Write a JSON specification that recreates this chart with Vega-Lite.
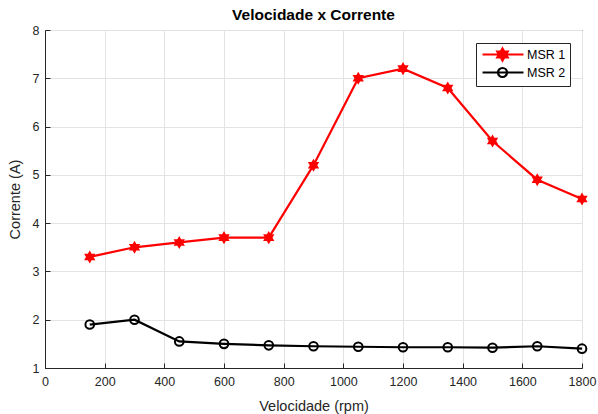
{
  "$schema": "https://vega.github.io/schema/vega-lite/v6.json",
  "width": 537,
  "height": 338,
  "autosize": {"type": "none"},
  "padding": {"left": 45, "top": 30, "right": 16, "bottom": 46},
  "background": "white",
  "title": {"text": "Velocidade x Corrente", "font": "Liberation Sans", "fontSize": 15.5, "fontWeight": "bold", "color": "#000000", "offset": 1},
  "config": {
    "view": {"stroke": "#262626", "strokeWidth": 1},
    "axis": {
      "labelFont": "Liberation Sans", "labelFontSize": 12.5, "labelColor": "#262626", "labelFlush": false,
      "titleFont": "Liberation Sans", "titleFontSize": 14.5, "titleFontWeight": "normal", "titleColor": "#262626",
      "gridColor": "#e3e3e3", "gridWidth": 1,
      "domainColor": "#262626", "tickColor": "#262626", "tickSize": -5
    },
    "legend": {
      "orient": "none", "legendX": 431, "legendY": 13,
      "strokeColor": "#262626", "fillColor": "white", "padding": 4, "rowPadding": -4,
      "labelFont": "Liberation Sans", "labelFontSize": 12.5, "labelColor": "#000000",
      "symbolSize": 144, "symbolStrokeWidth": 2.2, "labelOffset": 32, "symbolOpacity": 1
    }
  },
  "data": {"values": [
    {"v": 150, "c": 3.3, "s": "MSR 1"},
    {"v": 300, "c": 3.5, "s": "MSR 1"},
    {"v": 450, "c": 3.6, "s": "MSR 1"},
    {"v": 600, "c": 3.7, "s": "MSR 1"},
    {"v": 750, "c": 3.7, "s": "MSR 1"},
    {"v": 900, "c": 5.2, "s": "MSR 1"},
    {"v": 1050, "c": 7.0, "s": "MSR 1"},
    {"v": 1200, "c": 7.2, "s": "MSR 1"},
    {"v": 1350, "c": 6.8, "s": "MSR 1"},
    {"v": 1500, "c": 5.7, "s": "MSR 1"},
    {"v": 1650, "c": 4.9, "s": "MSR 1"},
    {"v": 1800, "c": 4.5, "s": "MSR 1"},
    {"v": 150, "c": 1.9, "s": "MSR 2"},
    {"v": 300, "c": 2.0, "s": "MSR 2"},
    {"v": 450, "c": 1.55, "s": "MSR 2"},
    {"v": 600, "c": 1.5, "s": "MSR 2"},
    {"v": 750, "c": 1.47, "s": "MSR 2"},
    {"v": 900, "c": 1.45, "s": "MSR 2"},
    {"v": 1050, "c": 1.44, "s": "MSR 2"},
    {"v": 1200, "c": 1.43, "s": "MSR 2"},
    {"v": 1350, "c": 1.43, "s": "MSR 2"},
    {"v": 1500, "c": 1.42, "s": "MSR 2"},
    {"v": 1650, "c": 1.45, "s": "MSR 2"},
    {"v": 1800, "c": 1.4, "s": "MSR 2"}
  ]},
  "encoding": {
    "x": {"field": "v", "type": "quantitative", "title": "Velocidade (rpm)",
      "scale": {"domain": [0, 1800], "nice": false},
      "axis": {"values": [0, 200, 400, 600, 800, 1000, 1200, 1400, 1600, 1800], "format": "d", "labelPadding": 12, "titlePadding": 12}},
    "y": {"field": "c", "type": "quantitative", "title": "Corrente (A)",
      "scale": {"domain": [1, 8], "nice": false, "zero": false},
      "axis": {"values": [1, 2, 3, 4, 5, 6, 7, 8], "format": "d", "labelPadding": 11, "titlePadding": 10}}
  },
  "layer": [
    {
      "mark": {"type": "line", "strokeWidth": 2.2},
      "encoding": {
        "color": {"field": "s", "type": "nominal", "title": null,
          "scale": {"domain": ["MSR 1", "MSR 2"], "range": ["#ff0000", "#000000"]}}
      }
    },
    {
      "mark": {"type": "point", "filled": false, "opacity": 0, "strokeWidth": 2.2},
      "encoding": {
        "color": {"field": "s", "type": "nominal", "title": null},
        "shape": {"field": "s", "type": "nominal", "title": null,
          "scale": {"domain": ["MSR 1", "MSR 2"], "range": [
            "M-0.83,0L6,0M2.5,-1L2.789,-0.5L3.366,-0.5L3.077,0L3.366,0.5L2.789,0.5L2.5,1L2.211,0.5L1.634,0.5L1.923,0L1.634,-0.5L2.211,-0.5Z",
            "M-0.83,0L6,0M3.25,0A0.75,0.75,0,1,1,1.75,0A0.75,0.75,0,1,1,3.25,0Z"]}},
        "fill": {"field": "s", "type": "nominal", "title": null,
          "scale": {"domain": ["MSR 1", "MSR 2"], "range": ["#ff0000", "transparent"]}}
      }
    },
    {
      "transform": [{"filter": "datum.s == 'MSR 1'"}],
      "mark": {"type": "point", "filled": true, "opacity": 1, "color": "#ff0000", "size": 170,
        "shape": "M0,-1L0.289,-0.5L0.866,-0.5L0.577,0L0.866,0.5L0.289,0.5L0,1L-0.289,0.5L-0.866,0.5L-0.577,0L-0.866,-0.5L-0.289,-0.5Z"}
    },
    {
      "transform": [{"filter": "datum.s == 'MSR 2'"}],
      "mark": {"type": "point", "filled": false, "opacity": 1, "color": "#000000", "size": 75, "strokeWidth": 2, "shape": "circle"}
    }
  ]
}
